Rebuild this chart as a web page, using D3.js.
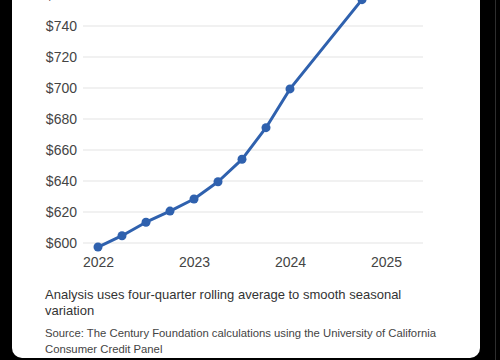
<!DOCTYPE html>
<html><head><meta charset="utf-8">
<script src="https://cdn.jsdelivr.net/npm/d3@7"></script>
<style>
html,body{margin:0;padding:0;background:#000;}
svg{display:block;}
</style></head>
<body>
<script>
// Data (quarterly, four-quarter rolling average)
const quarters = [2022, 2022.25, 2022.5, 2022.75, 2023, 2023.25, 2023.5, 2023.75, 2024, 2024.75];
const values   = [597.4, 604.7, 613.4, 620.6, 628.4, 639.5, 654.0, 674.4, 699.4, 757.0];
const yTicks   = [600, 620, 640, 660, 680, 700, 720, 740, 760];
const xTicks   = [2022, 2023, 2024, 2025];
const caption  = ["Analysis uses four-quarter rolling average to smooth seasonal", "variation"];
const source   = ["Source: The Century Foundation calculations using the University of California", "Consumer Credit Panel"];

const W = 500, H = 360;
const svg = d3.select("body").append("svg").attr("width", W).attr("height", H);

// background & card
svg.append("rect").attr("width", W).attr("height", H).attr("fill", "#000");
svg.append("rect").attr("x", 12).attr("y", -20).attr("width", 468).attr("height", 378)
  .attr("rx", 10).attr("fill", "#fff");
svg.append("line").attr("x1", 495.5).attr("x2", 495.5).attr("y1", 0).attr("y2", H)
  .attr("stroke", "#2e2e2e").attr("stroke-width", 1);

const x = d3.scaleLinear().domain([2022, 2025]).range([98, 386]);
const y = d3.scaleLinear().domain([600, 760]).range([243, -5]);

const font = "'Liberation Sans', Arial, sans-serif";

// gridlines
svg.append("g").selectAll("line").data(yTicks).join("line")
  .attr("x1", 83).attr("x2", 423)
  .attr("y1", d => y(d)).attr("y2", d => y(d))
  .attr("stroke", "#e3e3e3").attr("stroke-width", 1);

// y axis
const yAxis = svg.append("g").attr("transform", "translate(77,0)")
  .call(d3.axisLeft(y).tickValues(yTicks).tickSize(0).tickPadding(0).tickFormat(d => "$" + d));
yAxis.select(".domain").remove();
yAxis.selectAll("text").attr("font-family", font).attr("font-size", 14).attr("fill", "#444");

// x axis
const xAxis = svg.append("g").attr("transform", "translate(0,257)")
  .call(d3.axisBottom(x).tickValues(xTicks).tickSize(0).tickPadding(0).tickFormat(d3.format("d")));
xAxis.select(".domain").remove();
xAxis.selectAll("text").attr("font-family", font).attr("font-size", 14).attr("fill", "#444");

// line
const color = "#2f61ae";
svg.append("path").datum(quarters.map((q, i) => [q, values[i]]))
  .attr("fill", "none").attr("stroke", color).attr("stroke-width", 3)
  .attr("stroke-linejoin", "round")
  .attr("d", d3.line().x(d => x(d[0])).y(d => y(d[1])));
svg.append("g").selectAll("circle").data(quarters.map((q, i) => [q, values[i]])).join("circle")
  .attr("cx", d => x(d[0])).attr("cy", d => y(d[1])).attr("r", 4.5).attr("fill", color);

// captions
svg.append("g").selectAll("text").data(caption).join("text")
  .attr("x", 45).attr("y", (d, i) => 299 + i * 16)
  .attr("font-family", font).attr("font-size", 13).attr("fill", "#333").text(d => d);
svg.append("g").selectAll("text").data(source).join("text")
  .attr("x", 45).attr("y", (d, i) => 337 + i * 16)
  .attr("font-family", font).attr("font-size", 11.3).attr("fill", "#444").text(d => d);
</script>
</body></html>
